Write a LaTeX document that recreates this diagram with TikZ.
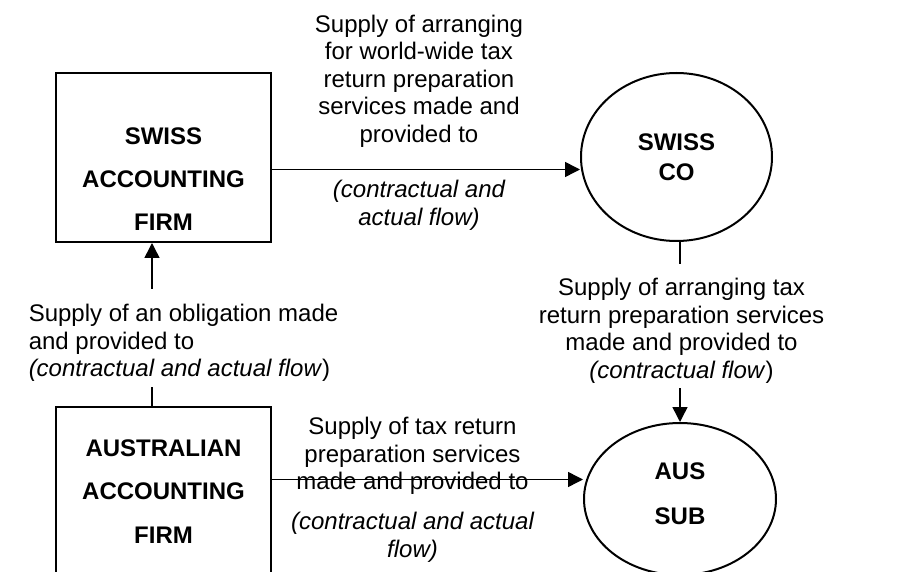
\documentclass[tikz,border=0pt]{standalone}
\usepackage{fontspec}
\setmainfont{Liberation Sans}
\usetikzlibrary{shapes.geometric,arrows.meta}

\tikzset{
  firm/.style={draw, line width=2pt, inner sep=2pt, minimum width=215pt, minimum height=169pt, align=center},
  party/.style={draw, ellipse, line width=2pt, inner sep=2pt, align=center},
  flow/.style={align=center, font=\fontsize{24}{27.5}\selectfont},
  gap/.style={fill=white, inner xsep=2pt, inner ysep=5pt, font=\fontsize{24}{27.5}\selectfont},
}

\begin{document}
\begin{tikzpicture}[x=1pt, y=-1pt, line width=1.5pt, >={Triangle[length=15pt,width=15pt]}]
      \path[use as bounding box] (0,0) rectangle (906,572);
      \clip (0,0) rectangle (906,572);
      % the four parties
      \node[firm, text height=147pt, font=\fontsize{24}{43}\selectfont\bfseries] at (163.5,157.5) (saf) {SWISS\\ACCOUNTING\\FIRM};
      \node[party, minimum width=191pt, minimum height=168pt, font=\fontsize{24}{30}\selectfont\bfseries] at (676.5,157) (sco) {SWISS\\CO};
      \node[firm, font=\fontsize{24}{43.5}\selectfont\bfseries] at (163.5,491.5) (aaf) {AUSTRALIAN\\ACCOUNTING\\FIRM};
      \node[party, minimum width=192pt, minimum height=152pt, text depth=10pt, font=\fontsize{24}{45}\selectfont\bfseries] at (680,499) (asub) {AUS\\SUB};
      % supplies
      \path[draw,->] ([yshift=-12pt]saf.east) -- ([yshift=-12pt]saf.east -| sco.west);
      \path[draw,->] (sco.south -| asub.north) -- (asub.north);
      \path[draw,->] ([xshift=-11.5pt]aaf.north) -- ([xshift=-11.5pt]saf.south);
      \path[draw,->] ([yshift=12pt]aaf.east) -- ([yshift=12pt]aaf.east -| asub.west);
      % what is supplied
      \node[flow] at (419,81) (lblworld) {Supply of arranging\\for world-wide tax\\return preparation\\services made and\\provided to};
      \node[flow, font=\fontsize{24}{27.5}\selectfont\itshape] at (419,205.5) (lblworldflow) {(contractual and\\actual flow)};
      \node[gap, text height=109.5pt, align=center, anchor=north] at (681.5,263) (lblarrange) {Supply of arranging tax\\return preparation services\\made and provided to\\\textit{(contractual flow})};
      \node[gap, text height=83pt, align=left, anchor=north west] at (26,288) (lbloblig) {Supply of an obligation made\\and provided to\\\textit{(contractual and actual flow})};
      \node[flow] at (412.5,456) (lbltax) {Supply of tax return\\preparation services\\made and provided to};
      \node[flow, font=\fontsize{24}{27.5}\selectfont\itshape] at (412.5,537.5) (lbltaxflow) {(contractual and actual\\flow)};
    \end{tikzpicture}
\end{document}
